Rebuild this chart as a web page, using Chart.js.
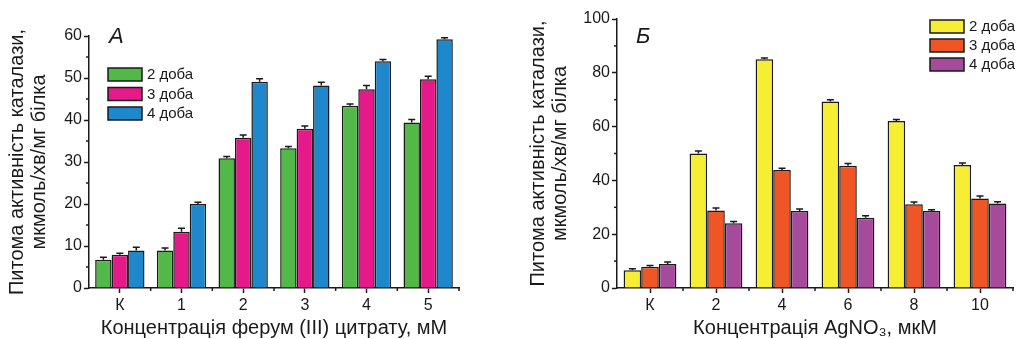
<!DOCTYPE html>
<html lang="uk">
<head>
<meta charset="UTF-8">
<title>Каталаза</title>
<style>
    body { margin: 0; background: #fff; }
    .panel { position: absolute; top: 0; height: 339px; }
    #left { left: 0; width: 500px; }
    #right { left: 500px; width: 517px; }
</style>
</head>
<body>
<div class="panel" id="left"><canvas id="feChart" width="500" height="339"></canvas></div>
<div class="panel" id="right"><canvas id="agChart" width="517" height="339"></canvas></div>

<script src="https://cdn.jsdelivr.net/npm/chart.js"></script>
<script>
// panel A - ferric citrate
const feCategories = ['К', '1', '2', '3', '4', '5'];
const feDay2 = [6.7, 8.9, 30.9, 33.3, 43.4, 39.4];
const feDay3 = [7.9, 13.4, 35.8, 37.9, 47.3, 49.7];
const feDay4 = [8.9, 20.0, 49.1, 48.2, 54.0, 59.2];
const feDay2Err = [0.6, 0.6, 0.4, 0.4, 0.4, 0.7];
const feDay3Err = [0.4, 0.8, 0.6, 0.7, 0.9, 0.7];
const feDay4Err = [0.8, 0.4, 0.7, 0.8, 0.4, 0.4];

// panel Б - silver nitrate
const agCategories = ['К', '2', '4', '6', '8', '10'];
const agDay2 = [6.6, 50.0, 85.0, 69.3, 62.1, 45.7];
const agDay3 = [7.9, 28.8, 43.9, 45.4, 31.1, 33.3];
const agDay4 = [8.9, 24.1, 28.6, 26.1, 28.6, 31.4];
const agDay2Err = [0.6, 0.9, 0.5, 0.7, 0.5, 0.8];
const agDay3Err = [0.5, 0.9, 0.6, 0.9, 0.9, 0.9];
const agDay4Err = [0.8, 0.6, 0.8, 0.8, 0.5, 0.7];

const seriesLabels = ['2 доба', '3 доба', '4 доба'];
const yTitle = ['Питома активність каталази,', 'мкмоль/хв/мг білка'];

const FONT = "'Liberation Sans', Arial, sans-serif";
const INK = '#1a1a1a';

// error bars, minor ticks, inner legend and panel letter
const extras = {
    id: 'extras',
    afterDatasetsDraw(chart) {
        const ctx = chart.ctx;
        const y = chart.scales.y;
        ctx.save();
        ctx.strokeStyle = INK;
        ctx.lineWidth = 1.5;
        chart.data.datasets.forEach((ds, i) => {
            chart.getDatasetMeta(i).data.forEach((bar, j) => {
                const top = y.getPixelForValue(ds.data[j] + ds.errors[j]);
                ctx.beginPath();
                ctx.moveTo(bar.x, bar.y);
                ctx.lineTo(bar.x, top);
                ctx.moveTo(bar.x - 3.5, top);
                ctx.lineTo(bar.x + 3.5, top);
                ctx.stroke();
            });
        });
        ctx.restore();
    },
    afterDraw(chart, args, opts) {
        const ctx = chart.ctx;
        const x = chart.scales.x;
        const y = chart.scales.y;
        const area = chart.chartArea;
        ctx.save();
        ctx.strokeStyle = INK;
        ctx.lineWidth = 1.5;
        // minor y ticks
        for (let v = opts.minorStep; v < y.max; v += opts.minorStep * 2) {
            const py = y.getPixelForValue(v);
            ctx.beginPath();
            ctx.moveTo(area.left - 3, py);
            ctx.lineTo(area.left, py);
            ctx.stroke();
        }
        // minor x ticks at category boundaries
        const n = chart.data.labels.length;
        const half = (x.getPixelForValue(1) - x.getPixelForValue(0)) / 2;
        for (let i = 0; i < n; i++) {
            const px = x.getPixelForValue(i) + half;
            ctx.beginPath();
            ctx.moveTo(px, area.bottom);
            ctx.lineTo(px, area.bottom + 3);
            ctx.stroke();
        }
        // legend
        ctx.font = '15px ' + FONT;
        ctx.textBaseline = 'middle';
        ctx.textAlign = 'left';
        chart.data.datasets.forEach((ds, i) => {
            const by = opts.legendY + i * opts.legendGap;
            ctx.fillStyle = ds.backgroundColor;
            ctx.fillRect(opts.legendX, by, 34, 13);
            ctx.strokeStyle = INK;
            ctx.lineWidth = 1.5;
            ctx.strokeRect(opts.legendX, by, 34, 13);
            ctx.fillStyle = INK;
            ctx.fillText(ds.label, opts.legendX + 39, by + 7);
        });
        // panel letter
        ctx.font = 'italic 22px ' + FONT;
        ctx.textBaseline = 'alphabetic';
        ctx.fillText(opts.letter, opts.letterX, opts.letterY);
        ctx.restore();
    }
};

function makeChart(id, labels, values, errors, colors, cfg) {
    const datasets = values.map((v, i) => ({
        label: seriesLabels[i],
        data: v,
        errors: errors[i],
        backgroundColor: colors[i],
        borderColor: INK,
        borderWidth: 1.5,
        barPercentage: 1,
        categoryPercentage: 0.8
    }));
    return new Chart(document.getElementById(id), {
        type: 'bar',
        data: { labels: labels, datasets: datasets },
        options: {
            responsive: false,
            animation: false,
            layout: { padding: cfg.padding },
            plugins: {
                legend: { display: false },
                tooltip: { enabled: false },
                extras: cfg.extras
            },
            scales: {
                x: {
                    afterFit(scale) { scale.height = 51; },
                    grid: { drawOnChartArea: false, offset: false, tickLength: 5, tickColor: INK, tickWidth: 1.5 },
                    border: { color: INK, width: 1.5 },
                    ticks: { color: INK, font: { family: FONT, size: 16 }, padding: 3 },
                    title: {
                        display: true,
                        text: cfg.xTitle,
                        color: INK,
                        font: { family: FONT, size: 20, lineHeight: 1.1 },
                        padding: { top: 0, bottom: 0 }
                    }
                },
                y: {
                    min: 0,
                    max: cfg.yMax,
                    afterFit(scale) { scale.width = cfg.yWidth; },
                    grid: { drawOnChartArea: false, tickLength: 5, tickColor: INK, tickWidth: 1.5 },
                    border: { color: INK, width: 1.5 },
                    ticks: { stepSize: cfg.yStep, color: INK, font: { family: FONT, size: 16 }, padding: 2 },
                    title: {
                        display: true,
                        text: yTitle,
                        color: INK,
                        font: { family: FONT, size: 20, lineHeight: 1.1 },
                        padding: { top: cfg.titlePad, bottom: 0 }
                    }
                }
            }
        },
        plugins: [extras]
    });
}

makeChart('feChart', feCategories,
    [feDay2, feDay3, feDay4], [feDay2Err, feDay3Err, feDay4Err],
    ['#52b848', '#e5198a', '#1f88cc'],
    {
        padding: { top: 36, right: 41, left: 0, bottom: 0 },
        yMax: 60, yStep: 10, yWidth: 89, titlePad: 6,
        xTitle: 'Концентрація ферум (III) цитрату, мМ',
        extras: { minorStep: 5, legendX: 108, legendY: 68, legendGap: 19.5, letter: 'А', letterX: 109, letterY: 43 }
    });

makeChart('agChart', agCategories,
    [agDay2, agDay3, agDay4], [agDay2Err, agDay3Err, agDay4Err],
    ['#f5ee33', '#ee5725', '#a64a9b'],
    {
        padding: { top: 19, right: 4, left: 0, bottom: 0 },
        yMax: 100, yStep: 20, yWidth: 117, titlePad: 27,
        xTitle: 'Концентрація AgNO₃, мкМ',
        extras: { minorStep: 10, legendX: 430, legendY: 20, legendGap: 19, letter: 'Б', letterX: 136, letterY: 43 }
    });
</script>
</body>
</html>
